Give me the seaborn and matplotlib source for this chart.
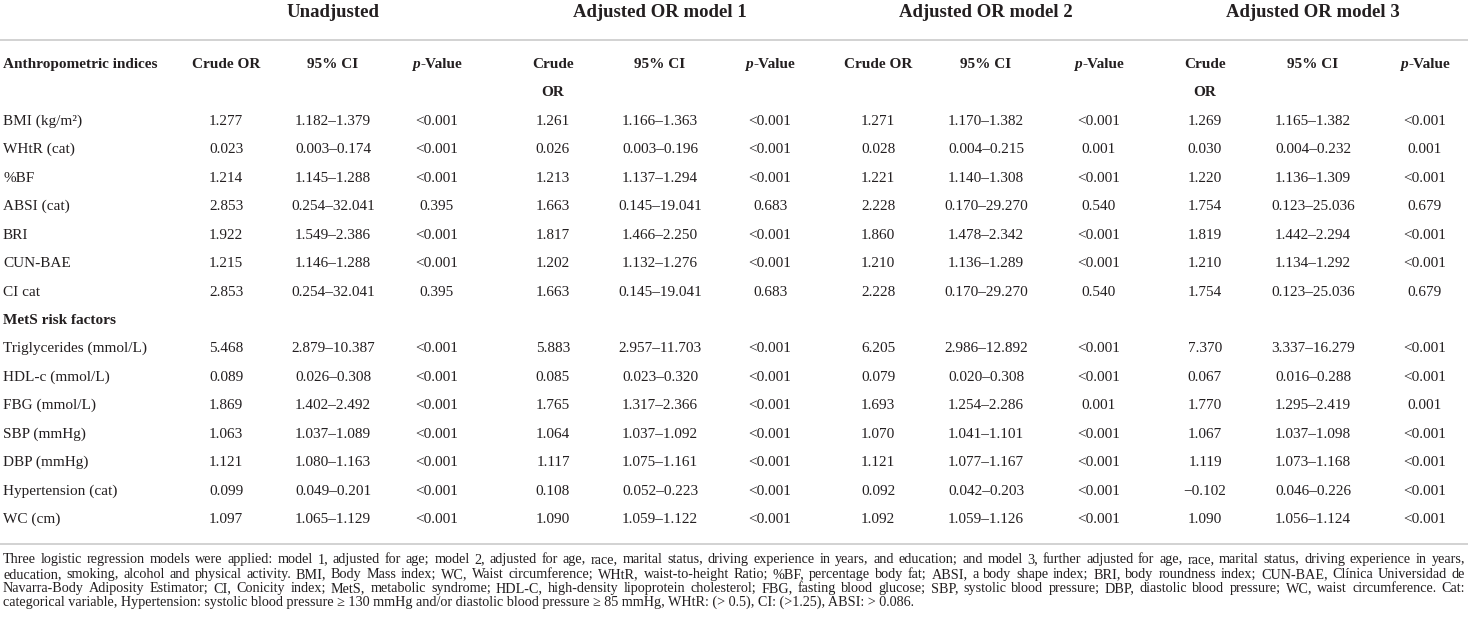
import matplotlib
matplotlib.use("Agg")
import matplotlib.pyplot as plt
import seaborn as sns

# table content
groups = ["Unadjusted", "Adjusted OR model 1", "Adjusted OR model 2", "Adjusted OR model 3"]
sections = ["Anthropometric indices", "MetS risk factors"]
anthro = ["BMI (kg/m²)", "WHtR (cat)", "%BF", "ABSI (cat)", "BRI", "CUN-BAE", "CI cat"]
mets = ["Triglycerides (mmol/L)", "HDL-c (mmol/L)", "FBG (mmol/L)", "SBP (mmHg)",
        "DBP (mmHg)", "Hypertension (cat)", "WC (cm)"]

or_unadj = [1.277, 0.023, 1.214, 2.853, 1.922, 1.215, 2.853,
            5.468, 0.089, 1.869, 1.063, 1.121, 0.099, 1.097]
lo_unadj = [1.182, 0.003, 1.145, 0.254, 1.549, 1.146, 0.254,
            2.879, 0.026, 1.402, 1.037, 1.080, 0.049, 1.065]
hi_unadj = [1.379, 0.174, 1.288, 32.041, 2.386, 1.288, 32.041,
            10.387, 0.308, 2.492, 1.089, 1.163, 0.201, 1.129]
p_unadj = ["<0.001", "<0.001", "<0.001", "0.395", "<0.001", "<0.001", "0.395",
           "<0.001", "<0.001", "<0.001", "<0.001", "<0.001", "<0.001", "<0.001"]

or_m1 = [1.261, 0.026, 1.213, 1.663, 1.817, 1.202, 1.663,
         5.883, 0.085, 1.765, 1.064, 1.117, 0.108, 1.090]
lo_m1 = [1.166, 0.003, 1.137, 0.145, 1.466, 1.132, 0.145,
         2.957, 0.023, 1.317, 1.037, 1.075, 0.052, 1.059]
hi_m1 = [1.363, 0.196, 1.294, 19.041, 2.250, 1.276, 19.041,
         11.703, 0.320, 2.366, 1.092, 1.161, 0.223, 1.122]
p_m1 = ["<0.001", "<0.001", "<0.001", "0.683", "<0.001", "<0.001", "0.683",
        "<0.001", "<0.001", "<0.001", "<0.001", "<0.001", "<0.001", "<0.001"]

or_m2 = [1.271, 0.028, 1.221, 2.228, 1.860, 1.210, 2.228,
         6.205, 0.079, 1.693, 1.070, 1.121, 0.092, 1.092]
lo_m2 = [1.170, 0.004, 1.140, 0.170, 1.478, 1.136, 0.170,
         2.986, 0.020, 1.254, 1.041, 1.077, 0.042, 1.059]
hi_m2 = [1.382, 0.215, 1.308, 29.270, 2.342, 1.289, 29.270,
         12.892, 0.308, 2.286, 1.101, 1.167, 0.203, 1.126]
p_m2 = ["<0.001", "0.001", "<0.001", "0.540", "<0.001", "<0.001", "0.540",
        "<0.001", "<0.001", "0.001", "<0.001", "<0.001", "<0.001", "<0.001"]

or_m3 = [1.269, 0.030, 1.220, 1.754, 1.819, 1.210, 1.754,
         7.370, 0.067, 1.770, 1.067, 1.119, -0.102, 1.090]
lo_m3 = [1.165, 0.004, 1.136, 0.123, 1.442, 1.134, 0.123,
         3.337, 0.016, 1.295, 1.037, 1.073, 0.046, 1.056]
hi_m3 = [1.382, 0.232, 1.309, 25.036, 2.294, 1.292, 25.036,
         16.279, 0.288, 2.419, 1.098, 1.168, 0.226, 1.124]
p_m3 = ["<0.001", "0.001", "<0.001", "0.679", "<0.001", "<0.001", "0.679",
        "<0.001", "<0.001", "0.001", "<0.001", "<0.001", "<0.001", "<0.001"]

footnote = [
    "Three logistic regression models were applied: model 1, adjusted for age; model 2, adjusted for age, race, marital status, driving experience in years, and education; and model 3, further adjusted for age, race, marital status, driving experience in years,",
    "education, smoking, alcohol and physical activity. BMI, Body Mass index; WC, Waist circumference; WHtR, waist-to-height Ratio; %BF, percentage body fat; ABSI, a body shape index; BRI, body roundness index; CUN-BAE, Clínica Universidad de",
    "Navarra-Body Adiposity Estimator; CI, Conicity index; MetS, metabolic syndrome; HDL-C, high-density lipoprotein cholesterol; FBG, fasting blood glucose; SBP, systolic blood pressure; DBP, diastolic blood pressure; WC, waist circumference. Cat:",
    "categorical variable, Hypertension: systolic blood pressure ≥ 130 mmHg and/or diastolic blood pressure ≥ 85 mmHg, WHtR: (> 0.5), CI: (>1.25), ABSI: > 0.086.",
]

models = [
    (or_unadj, lo_unadj, hi_unadj, p_unadj),
    (or_m1, lo_m1, hi_m1, p_m1),
    (or_m2, lo_m2, hi_m2, p_m2),
    (or_m3, lo_m3, hi_m3, p_m3),
]
two_line_header = [False, True, False, True]

sns.set_theme(style="white")
plt.rcParams["font.family"] = ["Liberation Serif", "DejaVu Serif"]

W, H = 1468, 633
fig = plt.figure(figsize=(W / 100, H / 100), dpi=100)
ax = fig.add_axes([0, 0, 1, 1])
ax.set_xlim(0, W)
ax.set_ylim(H, 0)
ax.axis("off")
r = fig.canvas.get_renderer()

ink = "#231f20"
rule = "#d2d2d2"
fs = 11
col_x = [[226, 333, 437], [553, 660, 770], [878, 986, 1099], [1205, 1313, 1425]]
y_head = 63
row_h = 28.43
y_first = 120


def fmt(v):
    return f"{v:.3f}".replace("-", "\u2212")


def p_header(xc, y):
    a = ax.text(0, y, "p", fontsize=fs, style="italic", fontweight="bold", color=ink, va="baseline")
    b = ax.text(0, y, "-Value", fontsize=fs, fontweight="bold", color=ink, va="baseline")
    wa = a.get_window_extent(r).width
    wb = b.get_window_extent(r).width
    left = xc - (wa + wb) / 2
    a.set_x(left)
    b.set_x(left + wa + 0.5)


# group titles and rules
for g, xs in zip(groups, col_x):
    ax.text(xs[1], 17, g, fontsize=13.5, fontweight="bold", color=ink, ha="center", va="baseline")
ax.axhline(39.5, color=rule, lw=1.4)
ax.axhline(544, color=rule, lw=1.4)

# column headers
ax.text(3, y_head + 5, sections[0], fontsize=fs, fontweight="bold", color=ink, va="baseline")
for xs, two in zip(col_x, two_line_header):
    if two:
        ax.text(xs[0], y_head + 5, "Crude", fontsize=fs, fontweight="bold", color=ink, ha="center", va="baseline")
        ax.text(xs[0], y_head + row_h + 5, "OR", fontsize=fs, fontweight="bold", color=ink, ha="center", va="baseline")
    else:
        ax.text(xs[0], y_head + 5, "Crude OR", fontsize=fs, fontweight="bold", color=ink, ha="center", va="baseline")
    ax.text(xs[1], y_head + 5, "95% CI", fontsize=fs, fontweight="bold", color=ink, ha="center", va="baseline")
    p_header(xs[2], y_head + 5)

# body rows
labels = anthro + [None] + mets
k = 0
for i, lab in enumerate(labels):
    y = round(y_first + i * row_h + 5)
    if lab is None:
        ax.text(3, y, sections[1], fontsize=fs, fontweight="bold", color=ink, va="baseline")
        continue
    ax.text(3, y, lab, fontsize=fs, color=ink, va="baseline")
    for (ors, los, his, ps), xs in zip(models, col_x):
        ax.text(xs[0], y, fmt(ors[k]), fontsize=fs, color=ink, ha="center", va="baseline")
        ax.text(xs[1], y, f"{fmt(los[k])}\u2013{fmt(his[k])}", fontsize=fs, color=ink, ha="center", va="baseline")
        ax.text(xs[2], y, ps[k], fontsize=fs, color=ink, ha="center", va="baseline")
    k += 1

# footnote, justified except the last line
x0, x1 = 3, 1465
ffs = 10.2
for j, line in enumerate(footnote):
    y = round(563 + j * 14.5)
    if j == len(footnote) - 1:
        ax.text(x0, y, line, fontsize=ffs, color=ink, va="baseline")
        continue
    words = line.split(" ")
    arts = [ax.text(0, y, w, fontsize=ffs, color=ink, va="baseline") for w in words]
    widths = [a.get_window_extent(r).width for a in arts]
    gap = (x1 - x0 - sum(widths)) / (len(words) - 1)
    x = x0
    for a, w in zip(arts, widths):
        a.set_x(x)
        x += w + gap

fig.savefig("out.png", dpi=100, facecolor="white")
